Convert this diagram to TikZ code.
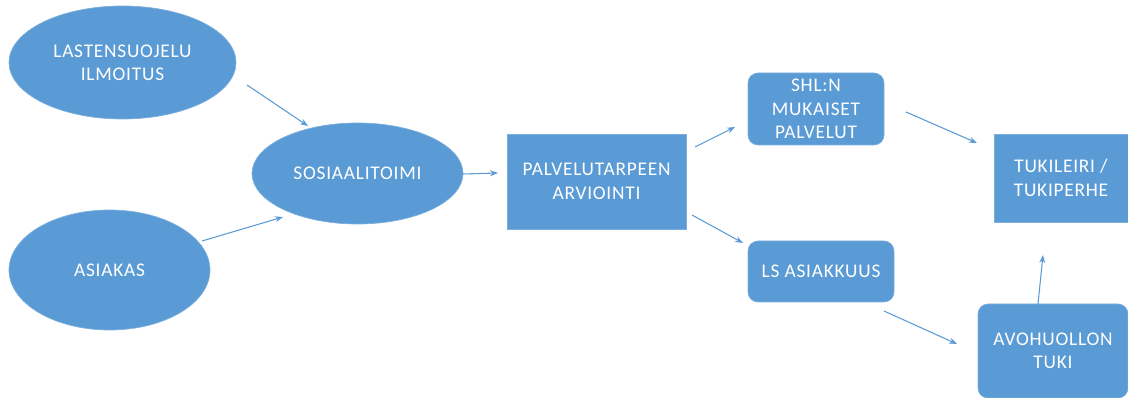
\documentclass[tikz,border=0pt]{standalone}
\usepackage{fontspec}
\setmainfont{Carlito}[LetterSpace=4]
\usetikzlibrary{shapes.geometric,arrows.meta}
\definecolor{blu}{HTML}{5B9BD5}
\begin{document}
\begin{tikzpicture}[x=0.75pt,y=-0.75pt,
  base/.style={fill=blu,draw=blu!80!white,line width=0.5pt,text=white,inner sep=0pt,align=center,
    font=\fontsize{14.5pt}{17.5pt}\selectfont},
  ell/.style={base,ellipse},
  sq/.style={base,rectangle},
  rnd/.style={base,rectangle,rounded corners=7.5pt},
  arr/.style={draw=blu,line width=0.8pt,-{Stealth[length=6pt,width=4.5pt]}}]
\useasboundingbox (0,0) rectangle (1128,398);
\node[ell,minimum width=227*0.75pt,minimum height=113*0.75pt] (ls) at (122.5,62.5) {LASTENSUOJELU\\ILMOITUS};
\node[ell,minimum width=201*0.75pt,minimum height=120*0.75pt] (as) at (109.5,270) {ASIAKAS};
\node[ell,minimum width=211*0.75pt,minimum height=101*0.75pt] (so) at (357.5,173.5) {SOSIAALITOIMI};
\node[sq,minimum width=179*0.75pt,minimum height=95*0.75pt] (pa) at (596.5,181.5) {PALVELUTARPEEN\\ARVIOINTI};
\node[rnd,minimum width=136*0.75pt,minimum height=72*0.75pt] (sh) at (816,109) {SHL:N\\MUKAISET\\PALVELUT};
\node[rnd,minimum width=146*0.75pt,minimum height=61*0.75pt] (lsa) at (821,271.5) {LS ASIAKKUUS};
\node[sq,minimum width=134*0.75pt,minimum height=88*0.75pt] (tu) at (1061,178) {TUKILEIRI /\\TUKIPERHE};
\node[rnd,minimum width=150*0.75pt,minimum height=94*0.75pt] (av) at (1053,351) {AVOHUOLLON\\TUKI};
% connector ends
\coordinate (a1) at (247,85);   \coordinate (b1) at (308,126);
\coordinate (a2) at (202,241);  \coordinate (b2) at (283,217);
\coordinate (a3) at (463,174);  \coordinate (b3) at (498,173);
\coordinate (a4) at (695,147);  \coordinate (b4) at (735,127);
\coordinate (a5) at (692,215);  \coordinate (b5) at (743,243);
\coordinate (a6) at (906,112);  \coordinate (b6) at (977,143);
\coordinate (a7) at (884,311);  \coordinate (b7) at (957,344);
\coordinate (a8) at (1038,304); \coordinate (b8) at (1043,255);
\draw[arr] (a1) -- (b1);
\draw[arr] (a2) -- (b2);
\draw[arr] (a3) -- (b3);
\draw[arr] (a4) -- (b4);
\draw[arr] (a5) -- (b5);
\draw[arr] (a6) -- (b6);
\draw[arr] (a7) -- (b7);
\draw[arr] (a8) -- (b8);
\end{tikzpicture}
\end{document}
